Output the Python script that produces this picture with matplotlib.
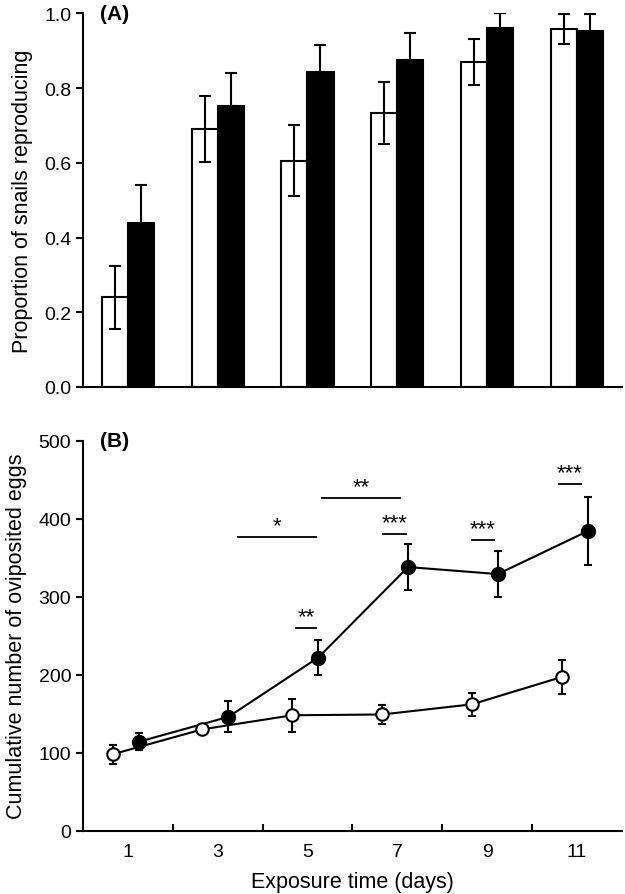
import numpy as np
import matplotlib
matplotlib.use("Agg")
import matplotlib.pyplot as plt

plt.rcParams['font.family'] = ['Liberation Sans', 'DejaVu Sans']

# Datos
dias = ["1", "3", "5", "7", "9", "11"]

# (A) proporción de caracoles que se reproducen
prop_blanco = [0.24, 0.69, 0.605, 0.733, 0.869, 0.958]
err_blanco = [0.085, 0.088, 0.095, 0.082, 0.062, 0.04]
prop_negro = [0.44, 0.752, 0.843, 0.874, 0.96, 0.952]
err_negro = [0.10, 0.089, 0.071, 0.072, 0.04, 0.047]

# (B) número acumulado de huevos
huevos_blanco = [98, 130, 148, 149, 162, 197]
errh_blanco = [12, 4, 21, 12, 15, 22]
huevos_negro = [114, 146, 222, 338, 329, 384]
errh_negro = [11, 20, 23, 30, 29, 44]

# Significancia: (x0, x1, y, texto)
sig_x0 = [1.23, 2.16, 1.87, 2.84, 3.83, 4.80]
sig_x1 = [2.09, 3.03, 2.10, 3.10, 4.08, 5.05]
sig_y = [376, 426, 260, 380, 373, 445]
sig_txt = ["*", "**", "**", "***", "***", "***"]

x = np.arange(len(dias))
lw = 1.5

fig = plt.figure(figsize=(6.25, 8.95), dpi=100)

# Panel A
ax1 = fig.add_axes([0.1328, 0.5665, 0.862, 0.4175])
ancho = 0.29
ax1.bar(x - ancho / 2, prop_blanco, ancho, color="white", edgecolor="black", linewidth=lw)
ax1.bar(x + ancho / 2, prop_negro, ancho, color="black", edgecolor="black", linewidth=lw)
ax1.errorbar(x - ancho / 2, prop_blanco, yerr=err_blanco, fmt="none", ecolor="black",
             elinewidth=lw, capsize=4, capthick=lw)
ax1.errorbar(x + ancho / 2, prop_negro, yerr=[[0] * 6, err_negro], fmt="none", ecolor="black",
             elinewidth=lw, capsize=4, capthick=lw)
ax1.set_xlim(-0.5, 5.5)
ax1.set_ylim(0, 1.0)
ax1.set_yticks(np.arange(0, 1.01, 0.2))
ax1.set_yticklabels([f"{v:.1f}" for v in np.arange(0, 1.01, 0.2)])
ax1.set_xticks([])
ax1.set_ylabel("Proportion of snails reproducing", fontsize=15.5, labelpad=8)
ax1.text(0.032, 1.0, "(A)", transform=ax1.transAxes, fontsize=15, fontweight="bold",
         va="center", ha="left")

# Panel B
ax2 = fig.add_axes([0.1328, 0.0707, 0.862, 0.4358])
xb = x - 0.17
xn = x + 0.12
ax2.errorbar(xn, huevos_negro, yerr=errh_negro, color="black", lw=lw, marker="o",
             markersize=10, markerfacecolor="black", markeredgecolor="black",
             elinewidth=lw, capsize=3, capthick=lw, zorder=3)
ax2.errorbar(xb, huevos_blanco, yerr=errh_blanco, color="black", lw=lw, marker="o",
             markersize=9, markerfacecolor="white", markeredgecolor="black", markeredgewidth=lw,
             elinewidth=lw, capsize=3, capthick=lw, zorder=4)
for x0, x1, y, t in zip(sig_x0, sig_x1, sig_y, sig_txt):
    ax2.plot([x0, x1], [y, y], color="black", lw=1.3)
    ax2.text((x0 + x1) / 2, y + 1, t, ha="center", va="bottom", fontsize=16)
ax2.set_xlim(-0.5, 5.5)
ax2.set_ylim(0, 500)
ax2.set_yticks(np.arange(0, 501, 100))
ax2.set_xticks(x)
ax2.set_xticklabels(dias)
ax2.set_xticks(np.arange(0.5, 5, 1), minor=True)
ax2.tick_params(axis="x", which="major", length=0, pad=9)
ax2.tick_params(axis="x", which="minor", direction="in", length=5, width=lw)
ax2.set_xlabel("Exposure time (days)", fontsize=15.5, labelpad=8)
ax2.set_ylabel("Cumulative number of oviposited eggs", fontsize=15.5, labelpad=8)
ax2.text(0.032, 1.0, "(B)", transform=ax2.transAxes, fontsize=15, fontweight="bold",
         va="center", ha="left")

for ax in (ax1, ax2):
    ax.spines["top"].set_visible(False)
    ax.spines["right"].set_visible(False)
    ax.spines["left"].set_linewidth(lw)
    ax.spines["bottom"].set_linewidth(lw)
    ax.tick_params(axis="y", direction="out", length=5, width=lw, labelsize=14)
    ax.tick_params(axis="x", labelsize=14)

fig.savefig("out.png", dpi=100)
